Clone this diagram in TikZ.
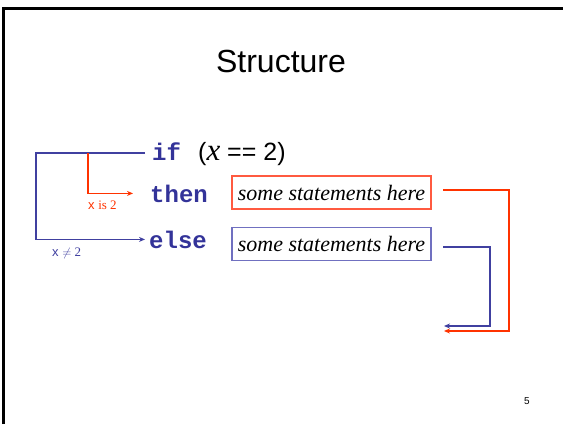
\documentclass[tikz,border=0pt]{standalone}
\usepackage{fontspec}
\setmainfont{Liberation Sans}
\newfontfamily\timesfont{Liberation Serif}
\newfontfamily\courfont{Liberation Mono}
\usetikzlibrary{arrows.meta}
\definecolor{redline}{RGB}{255,51,0}
\definecolor{redbox}{RGB}{255,90,64}
\definecolor{blueline}{RGB}{64,64,160}
\definecolor{bluebox}{RGB}{112,112,192}
\definecolor{kwblue}{RGB}{51,51,153}
\tikzset{
  kw/.style={text=kwblue, font=\courfont\bfseries\fontsize{24}{24}\selectfont, inner sep=0pt, anchor=base west},
  stmtbox/.style={draw, line width=1.3pt, minimum width=199pt, minimum height=33pt, inner sep=0pt,
                  font=\timesfont\itshape\fontsize{22}{22}\selectfont},
  arr/.style={line width=1.8pt, -{Stealth[length=6pt,width=5pt]}},
}
\begin{document}
\begin{tikzpicture}[x=1pt,y=-1pt]
\useasboundingbox (0,0) rectangle (563,424);
% slide frame
\draw[line width=3pt] (3.5,424) -- (3.5,8.5) -- (563,8.5);
\node[anchor=base, font=\fontsize{32}{32}\selectfont] (title) at (281,72) {Structure};
% if / then / else
\node[kw] (ifkw) at (152,160) {if};
\node[anchor=base west, inner sep=0pt, font=\fontsize{25}{25}\selectfont] (cond) at (198,160) {({\timesfont\itshape\fontsize{31}{31}\selectfont x} == 2)};
\node[kw, inner xsep=3pt] (thenkw) at (147,202) {then};
\node[kw, inner xsep=4pt] (elsekw) at (145,248) {else};
\node[stmtbox, draw=redbox] (thenbox) at (331.5,192.5) {some statements here};
\node[stmtbox, draw=bluebox] (elsebox) at (331.5,244) {some statements here};
% branch labels
\node[anchor=base west, inner sep=0pt, text=redline, font=\fontsize{13}{13}\selectfont] (istwo) at (88,209) {x {\timesfont is 2}};
\node[anchor=base west, inner sep=0pt, text=blueline, font=\fontsize{13}{13}\selectfont] (nottwo) at (52,256) {x {\timesfont$\neq$ 2}};
% connectors
\coordinate (ifend) at (145,153);
\coordinate (corner) at (36,153);
\coordinate (branch) at (88,153);
\draw[arr, blueline] (ifend) -- (corner) |- (elsekw.west);
\draw[arr, redline, shorten >=14pt] (branch) |- (thenkw.west);
\coordinate (thenout) at (443,190);
\coordinate (elseout) at (443,247);
\coordinate (redin) at (444,331);
\coordinate (bluein) at (444,326);
\draw[arr, redline] (thenout) -| (509,331) -- (redin);
\draw[arr, blueline] (elseout) -| (490,326) -- (bluein);
\node[font=\fontsize{10}{10}\selectfont] (pagenum) at (527,401) {5};
\end{tikzpicture}
\end{document}
